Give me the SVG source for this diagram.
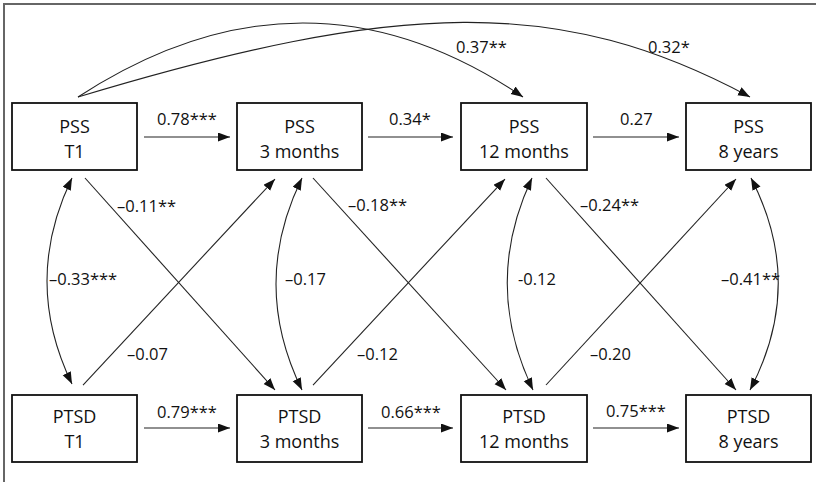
<svg xmlns="http://www.w3.org/2000/svg" width="816" height="482" viewBox="0 0 816 482">
<style>
.box{fill:#fff;stroke:#111;stroke-width:1.8}
.nt{font-family:"Open Sans","Liberation Sans",sans-serif;font-size:18px;fill:#111;text-anchor:middle}
.lb{font-family:"Open Sans","Liberation Sans",sans-serif;font-size:16.5px;fill:#111}
.ln{fill:none;stroke:#222;stroke-width:1.1}
.arr{marker-end:url(#ah)}
.dbl{marker-end:url(#ah);marker-start:url(#ah)}
</style>
<defs>
<marker id="ah" markerUnits="userSpaceOnUse" markerWidth="13" markerHeight="10" refX="12" refY="4.5" orient="auto-start-reverse">
<path d="M0,0 L12,4.5 L0,9 z" fill="#111"/>
</marker>
</defs>
<rect x="0" y="0" width="816" height="482" fill="#fff"/>
<rect x="4" y="4" width="900" height="600" fill="none" stroke="#666" stroke-width="2"/>

<g id="connectors">
<path class="ln arr" d="M78,97 Q305,-51 523,97"/>
<path class="ln arr" d="M78,97 C400,0 560,-5 750,97"/>
<path class="ln arr" d="M144,137 L230,137"/>
<path class="ln arr" d="M368,137 L453,137"/>
<path class="ln arr" d="M593,137 L679,137"/>
<path class="ln arr" d="M144,428 L230,428"/>
<path class="ln arr" d="M368,428 L453,428"/>
<path class="ln arr" d="M593,428 L679,428"/>
<path class="ln arr" d="M85,178 L275,390"/>
<path class="ln arr" d="M83,385 L275,179"/>
<path class="ln arr" d="M313,178 L506,390"/>
<path class="ln arr" d="M313,385 L505,179"/>
<path class="ln arr" d="M546,178 L736,390"/>
<path class="ln arr" d="M546,385 L736,179"/>
<path class="ln dbl" d="M72,178 Q22,281 72,384"/>
<path class="ln dbl" d="M302,178 Q250,284 302,390"/>
<path class="ln dbl" d="M532,178 Q482,284 533,390"/>
<path class="ln dbl" d="M751,178 Q806,284 750,390"/>
<text class="lb" x="157" y="125">0.78***</text>
<text class="lb" x="389" y="125">0.34*</text>
<text class="lb" x="620" y="125">0.27</text>
<text class="lb" x="456" y="53">0.37**</text>
<text class="lb" x="648" y="53">0.32*</text>
<text class="lb" x="117" y="212">–0.11**</text>
<text class="lb" x="348" y="211">–0.18**</text>
<text class="lb" x="580" y="211">–0.24**</text>
<text class="lb" x="49" y="285">–0.33***</text>
<text class="lb" x="285" y="285">–0.17</text>
<text class="lb" x="518" y="285">-0.12</text>
<text class="lb" x="721" y="285">–0.41**</text>
<text class="lb" x="127" y="360">–0.07</text>
<text class="lb" x="357" y="360">–0.12</text>
<text class="lb" x="590" y="360">–0.20</text>
<text class="lb" x="157" y="418">0.79***</text>
<text class="lb" x="381" y="418">0.66***</text>
<text class="lb" x="606" y="417">0.75***</text>
</g>

<g id="pss_t1"><rect class="box" x="12" y="103" width="125" height="67"/><text class="nt" x="74.5" y="133">PSS</text><text class="nt" x="74.5" y="158">T1</text></g>
<g id="pss_3m"><rect class="box" x="237" y="103" width="125" height="67"/><text class="nt" x="299.5" y="133">PSS</text><text class="nt" x="299.5" y="158">3 months</text></g>
<g id="pss_12m"><rect class="box" x="461" y="103" width="126" height="67"/><text class="nt" x="524" y="133">PSS</text><text class="nt" x="524" y="158">12 months</text></g>
<g id="pss_8y"><rect class="box" x="686" y="103" width="125" height="67"/><text class="nt" x="748.5" y="133">PSS</text><text class="nt" x="748.5" y="158">8 years</text></g>
<g id="ptsd_t1"><rect class="box" x="12" y="395" width="125" height="67"/><text class="nt" x="74.5" y="423">PTSD</text><text class="nt" x="74.5" y="448">T1</text></g>
<g id="ptsd_3m"><rect class="box" x="237" y="395" width="125" height="67"/><text class="nt" x="299.5" y="423">PTSD</text><text class="nt" x="299.5" y="448">3 months</text></g>
<g id="ptsd_12m"><rect class="box" x="461" y="395" width="126" height="67"/><text class="nt" x="524" y="423">PTSD</text><text class="nt" x="524" y="448">12 months</text></g>
<g id="ptsd_8y"><rect class="box" x="686" y="395" width="125" height="67"/><text class="nt" x="748.5" y="423">PTSD</text><text class="nt" x="748.5" y="448">8 years</text></g>
</svg>
